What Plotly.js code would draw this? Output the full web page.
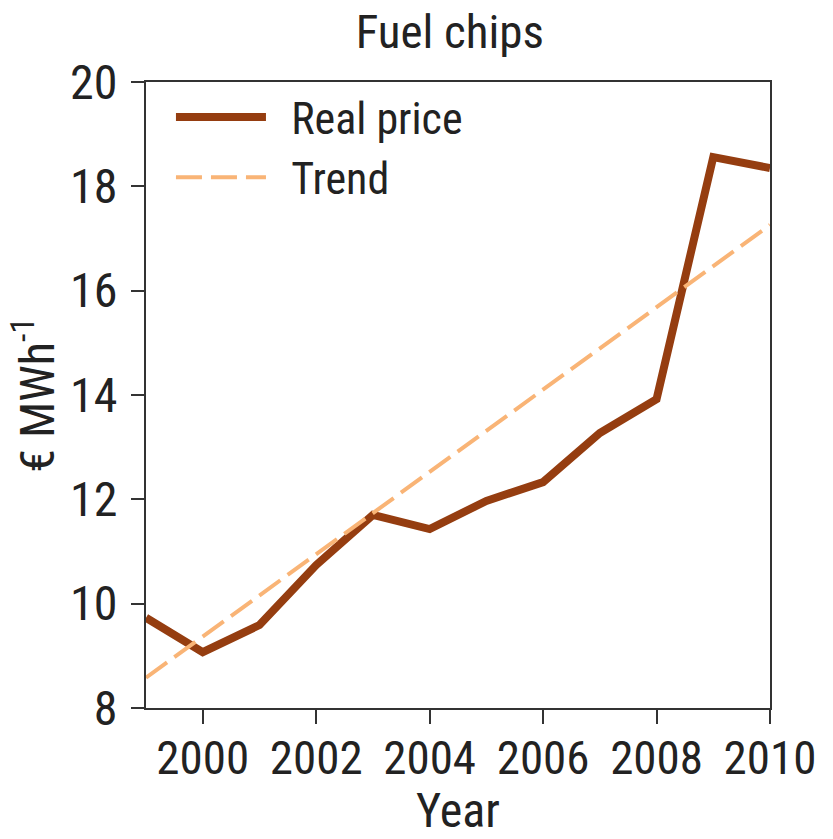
<!DOCTYPE html>
<html>
<head>
<meta charset="utf-8">
<script src="https://cdn.plot.ly/plotly-3.0.1.min.js"></script>
<style>html,body{margin:0;padding:0;background:#fff;}#chart{width:833px;height:839px;}</style>
</head>
<body>
<div id="chart"></div>
<script>
// Data
const years = [1999, 2000, 2001, 2002, 2003, 2004, 2005, 2006, 2007, 2008, 2009, 2010];
const realPrice = [9.73, 9.07, 9.59, 10.74, 11.70, 11.43, 11.97, 12.33, 13.27, 13.92, 18.56, 18.35];
const trendYears = [1999, 2010];
const trendValues = [8.58, 17.26];
const xTicks = [2000, 2002, 2004, 2006, 2008, 2010];
const yTicks = [8, 10, 12, 14, 16, 18, 20];
const seriesNames = ['Real price', 'Trend'];

const FONT = '"Roboto Condensed", "Liberation Sans Narrow", "Arial Narrow", "Liberation Sans", Arial, sans-serif';
const INK = '#222';
const PAD = '\u00a0\u00a0';

const traces = [
  {
    x: years, y: realPrice, type: 'scatter', mode: 'lines', name: PAD + seriesNames[0],
    line: {color: '#953d10', width: 8}
  },
  {
    x: trendYears, y: trendValues, type: 'scatter', mode: 'lines', name: PAD + seriesNames[1],
    line: {color: '#f9b476', width: 4, dash: '26px,9px'}
  }
];

const layout = {
  width: 833, height: 839,
  margin: {l: 146, r: 63, t: 82, b: 131},
  paper_bgcolor: '#fff', plot_bgcolor: '#fff',
  font: {family: FONT, size: 48, color: INK},
  title: {text: 'Fuel chips', font: {family: FONT, size: 47, color: INK}, x: 0.54, xanchor: 'center', y: 0.962, yanchor: 'middle'},
  showlegend: true,
  legend: {
    x: 0.04, y: 1.0, xanchor: 'left', yanchor: 'top',
    bgcolor: 'rgba(0,0,0,0)', font: {family: FONT, size: 44, color: INK},
    itemwidth: 90, tracegroupgap: 0
  },
  xaxis: {
    range: [1999, 2010], tickmode: 'array', tickvals: xTicks, ticktext: xTicks.map(String),
    showgrid: false, zeroline: false, showline: true, mirror: true, linecolor: '#333', linewidth: 2,
    ticks: 'outside', ticklen: 14, tickwidth: 2, tickcolor: '#333', ticklabelstandoff: -6,
    tickfont: {family: FONT, size: 47, color: INK},
    title: {text: 'Year', font: {family: FONT, size: 48, color: INK}, standoff: 12}
  },
  yaxis: {
    range: [8, 20], tickmode: 'array', tickvals: yTicks, ticktext: yTicks.map(String),
    showgrid: false, zeroline: false, showline: true, mirror: true, linecolor: '#333', linewidth: 2,
    ticks: 'outside', ticklen: 13, tickwidth: 2, tickcolor: '#333', ticklabelstandoff: 4,
    tickfont: {family: FONT, size: 48, color: INK},
    title: {text: '€ MWh<sup>-1</sup>', font: {family: FONT, size: 48, color: INK}, standoff: 0}
  }
};

Plotly.newPlot('chart', traces, layout, {displayModeBar: false, staticPlot: true});
</script>
</body>
</html>
